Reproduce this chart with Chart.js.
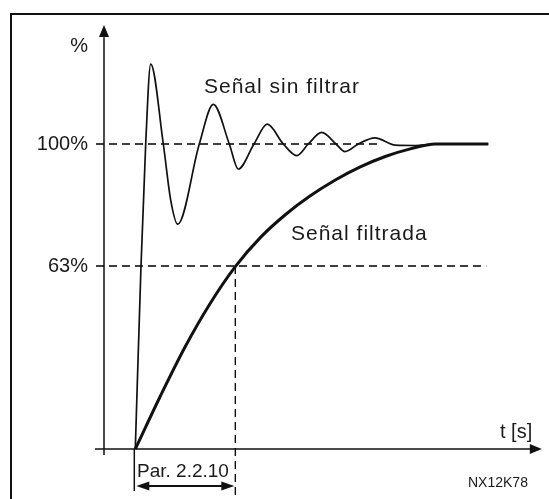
<!DOCTYPE html>
<html><head><meta charset="utf-8">
<script src="https://cdn.jsdelivr.net/npm/chart.js@4/dist/chart.umd.min.js"></script>
<style>html,body{margin:0;padding:0;background:#fff;overflow:hidden}canvas{display:block}</style>
</head><body>
<div style="width:549px;height:499px;position:relative"><canvas id="c" width="549" height="499"></canvas></div>
<script>
// time in units of the filter time constant (Par. 2.2.10), value in % of drawn height
const unfilteredT   = [0, 0.057, 0.104, 0.154, 0.28, 0.354, 0.424, 0.64, 0.78, 0.94, 1.03, 1.187, 1.32, 1.48, 1.614, 1.73, 1.864, 2.007, 2.097, 2.23, 2.397, 2.6, 2.8, 3.0, 3.53];
const unfilteredPct = [0, 60, 100, 126.2, 100, 81.6, 73.7, 100, 113, 100, 91.8, 100, 106.5, 100, 96.2, 100, 103.8, 100, 97.5, 100, 102, 99.6, 99.5, 100, 100];
const filteredT     = [0, 0.25, 0.5, 0.75, 1.0, 1.25, 1.5, 1.75, 2.0, 2.25, 2.5, 2.75, 3.0, 3.53];
const filteredPct   = [0, 17.3, 33.6, 47.8, 59.8, 69.3, 76.8, 83.0, 88.2, 92.5, 95.9, 98.4, 100, 100];
const yTickValues   = [60, 100];
const yTickLabels   = ['63%', '100%'];
const tauValue      = 1.0;
const seriesNames   = ['Señal filtrada', 'Señal sin filtrar'];

const pts = (xs, ys) => xs.map((x, i) => ({x, y: ys[i]}));
const FONT = '"Liberation Sans", Arial, sans-serif';
const INK = '#111';

const decor = {
  id: 'decor',
  beforeDatasetsDraw(chart) {
    const {ctx, scales: {x, y}} = chart;
    ctx.save();
    // frame
    ctx.strokeStyle = INK; ctx.lineWidth = 2;
    ctx.beginPath(); ctx.moveTo(11, 499); ctx.lineTo(11, 14); ctx.lineTo(549, 14); ctx.stroke();
    // axes
    const x0 = x.getPixelForValue(0), y0 = y.getPixelForValue(0);
    const yAxX = x.getPixelForValue(-0.313);
    ctx.lineWidth = 1.5;
    ctx.beginPath();
    ctx.moveTo(x.getPixelForValue(-0.403), y0); ctx.lineTo(x.getPixelForValue(3.95), y0);
    ctx.moveTo(yAxX, y.getPixelForValue(-2)); ctx.lineTo(yAxX, y.getPixelForValue(135));
    // origin tick / bracket left
    ctx.moveTo(x0 - 1, y0); ctx.lineTo(x0 - 1, 491);
    ctx.stroke();
    ctx.fillStyle = INK;
    // y arrow
    const yTop = y.getPixelForValue(139);
    ctx.beginPath(); ctx.moveTo(yAxX, yTop); ctx.lineTo(yAxX - 5, yTop + 12); ctx.lineTo(yAxX + 5, yTop + 12); ctx.closePath(); ctx.fill();
    // x arrow
    const xEnd = x.getPixelForValue(4.065);
    ctx.beginPath(); ctx.moveTo(xEnd, y0); ctx.lineTo(xEnd - 12, y0 - 5); ctx.lineTo(xEnd - 12, y0 + 5); ctx.closePath(); ctx.fill();
    // double arrow for time constant
    const xa = x.getPixelForValue(0), xb = x.getPixelForValue(tauValue), ya = 486;
    ctx.lineWidth = 2;
    ctx.beginPath(); ctx.moveTo(xa + 10, ya); ctx.lineTo(xb - 10, ya); ctx.stroke();
    ctx.beginPath(); ctx.moveTo(xa + 1, ya); ctx.lineTo(xa + 14, ya - 4.5); ctx.lineTo(xa + 14, ya + 4.5); ctx.closePath(); ctx.fill();
    ctx.beginPath(); ctx.moveTo(xb - 1, ya); ctx.lineTo(xb - 14, ya - 4.5); ctx.lineTo(xb - 14, ya + 4.5); ctx.closePath(); ctx.fill();

    // texts
    ctx.fillStyle = '#1a1a1a';
    ctx.textAlign = 'right'; ctx.textBaseline = 'middle';
    ctx.font = '20px ' + FONT;
    yTickValues.forEach((v, i) => ctx.fillText(yTickLabels[i], 88, y.getPixelForValue(v)));
    ctx.fillText('%', 88, 46);
    ctx.textAlign = 'left'; ctx.textBaseline = 'alphabetic';
    ctx.fillText('t [s]', 500, 438);
    ctx.font = '19px ' + FONT;
    ctx.fillText('Par. 2.2.10', 137, 477);
    ctx.font = '14px ' + FONT;
    ctx.fillText('NX12K78', 468, 487);
    ctx.font = '21px ' + FONT;
    ctx.letterSpacing = '1px';
    ctx.fillText(seriesNames[1], x.getPixelForValue(0.687), y.getPixelForValue(116.7));
    ctx.fillText(seriesNames[0], x.getPixelForValue(1.557), y.getPixelForValue(68.5));
    ctx.restore();
  }
};

const dash = {borderColor: '#000', borderWidth: 1.3, borderDash: [8, 5], pointRadius: 0, fill: false, tension: 0};
new Chart(document.getElementById('c'), {
  type: 'line',
  data: {
    datasets: [
      {label: seriesNames[0], data: pts(filteredT, filteredPct), borderColor: INK, borderWidth: 3, pointRadius: 0, cubicInterpolationMode: 'monotone', fill: false},
      {label: seriesNames[1], data: pts(unfilteredT, unfilteredPct), borderColor: INK, borderWidth: 1.7, pointRadius: 0, cubicInterpolationMode: 'monotone', fill: false},
      Object.assign({label: 'g100', data: [{x: -0.393, y: 100}, {x: 2.45, y: 100}]}, dash),
      Object.assign({label: 'g63', data: [{x: -0.393, y: yTickValues[0]}, {x: 3.51, y: yTickValues[0]}]}, dash),
      Object.assign({label: 'gtau', data: [{x: tauValue, y: yTickValues[0]}, {x: tauValue, y: -17}]}, dash)
    ]
  },
  options: {
    responsive: false, animation: false, events: [],
    layout: {padding: 0},
    plugins: {legend: {display: false}, tooltip: {enabled: false}, title: {display: false}},
    scales: {
      x: {type: 'linear', display: false, min: -1.353, max: 4.137},
      y: {type: 'linear', display: false, min: -16.39, max: 147.21}
    }
  },
  plugins: [decor]
});
</script>
</body></html>
